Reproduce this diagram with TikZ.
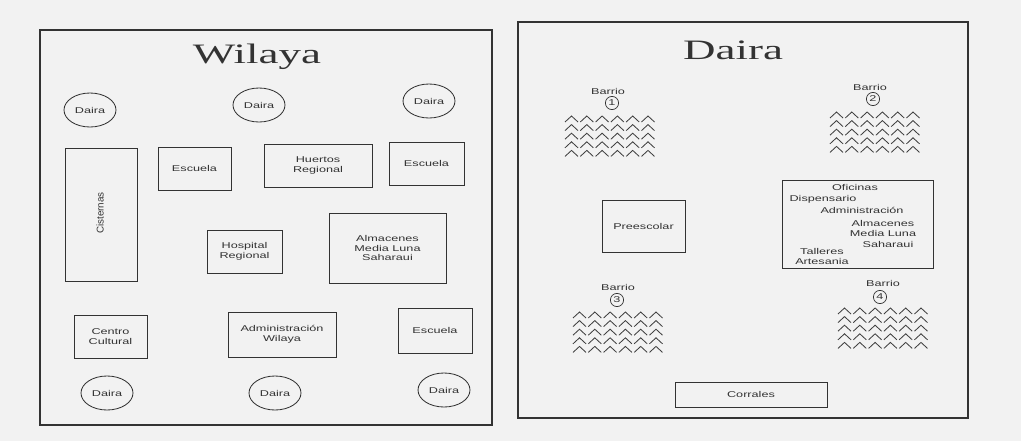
\documentclass[tikz,border=0pt]{standalone}
\usepackage{fontspec}
\setmainfont{Liberation Serif}
\newfontfamily\plansans[FakeStretch=1.5]{Liberation Sans}
\newfontfamily\planupright{Liberation Sans}
\newfontfamily\planserif[FakeStretch=1.6]{Liberation Serif}
\usetikzlibrary{shapes.geometric}

\tikzset{
  panel/.style={draw=black!80, line width=.8pt},
  title/.style={font=\planserif\fontsize{20}{22}\selectfont, text=black!80},
  txt/.style={font=\plansans\fontsize{6}{6.8}\selectfont, text=black!80, align=center, inner sep=0pt},
  box/.style 2 args={draw=black!80, line width=.6pt, txt,
    minimum width=#1*0.025cm, minimum height=#2*0.025cm},
  daira/.style={ellipse, draw=black!80, line width=.6pt, txt,
    minimum width=1.3cm, minimum height=.85cm},
  num/.style={circle, draw=black!80, line width=.5pt, txt, minimum size=.33cm},
  roof/.style={draw=black!75, line width=.6pt}
}

\begin{document}
\begin{tikzpicture}[x=0.025cm, y=-0.025cm]

\useasboundingbox [fill=black!5] (0,0) rectangle (1021,441);

% Wilaya
\draw [panel] (40,30) rectangle (492,425);
\node [title] (wilaya) at (257,57) {Wilaya};

\node [daira] (dtl) at (90,110) {Daira};
\node [daira] (dtm) at (259,105) {Daira};
\node [daira] (dtr) at (429,101) {Daira};
\node [daira] (dbl) at (107,393) {Daira};
\node [daira] (dbm) at (275,393) {Daira};
\node [daira] (dbr) at (444,390) {Daira};

\node [box={72}{133}] (cist) at (101,214.5) {};
\node [txt, font=\planupright\fontsize{7}{8}\selectfont, rotate=90] (cisttxt) at (100,213) {Cisternas};
\node [box={73}{43}] (esc1) at (194.5,168.5) {Escuela};
\node [box={108}{43}] (huertos) at (318,165.5) {Huertos\\Regional};
\node [box={75}{43}] (esc2) at (426.5,163.5) {Escuela};
\node [box={75}{43}] (hosp) at (244.5,251.5) {Hospital\\Regional};
\node [box={117}{70}] (alm) at (387.5,248) {Almacenes\\Media Luna\\Saharaui};
\node [box={73}{43}] (centro) at (110.5,336.5) {Centro\\Cultural};
\node [box={108}{45}] (admw) at (282,334.5) {Administración\\Wilaya};
\node [box={74}{45}] (esc3) at (435,330.5) {Escuela};

% Daira
\draw [panel] (518,22) rectangle (968,418);
\node [title] (daira) at (733,50) {Daira};

\node [txt] (b1) at (608,91) {Barrio};
\node [num] (n1) at (612,103) {1};
\node [txt] (b2) at (870,87) {Barrio};
\node [num] (n2) at (873,99) {2};
\node [txt] (b3) at (618,287) {Barrio};
\node [num] (n3) at (617,300) {3};
\node [txt] (b4) at (883,283) {Barrio};
\node [num] (n4) at (880,297) {4};

\foreach \bx/\by in {565/116, 830/112, 573/312, 838/308}
  \foreach \r in {0,...,4}
    \foreach \c in {0,...,5}
      \draw [roof] (\bx+\c*15.3,\by+\r*8.6+6) -- ++(6.5,-6) -- ++(6.5,6);

\node [box={83}{52}] (pre) at (643.5,226) {Preescolar};

\node [box={151}{88}] (ofi) at (857.5,224) {};
\node [txt] (ofi1) at (855,187) {Oficinas};
\node [txt] (ofi2) at (823,199) {Dispensario};
\node [txt] (ofi3) at (862,210) {Administración};
\node [txt] (ofi4) at (883,223) {Almacenes};
\node [txt] (ofi5) at (883,233) {Media Luna};
\node [txt] (ofi6) at (888,244) {Saharaui};
\node [txt] (ofi7) at (822,251) {Talleres};
\node [txt] (ofi8) at (822,261) {Artesania};

\node [box={152}{25}] (corr) at (751,394.5) {Corrales};

\end{tikzpicture}
\end{document}
